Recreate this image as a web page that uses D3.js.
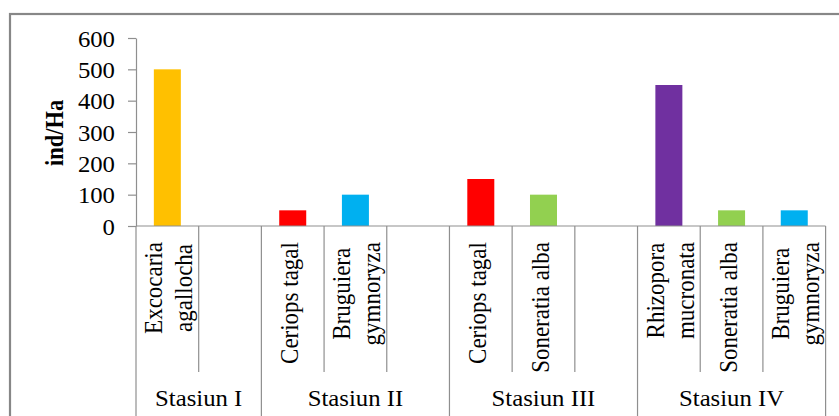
<!DOCTYPE html>
<html>
<head>
<meta charset="utf-8">
<script src="https://cdn.jsdelivr.net/npm/d3@7"></script>
<style>
  html, body { margin: 0; padding: 0; background: #fff; }
  svg { display: block; }
  text { font-family: "Liberation Serif", "Times New Roman", serif; fill: #000; }
</style>
</head>
<body>
<svg id="chart" width="839" height="416"></svg>
<script>
// Stand density per mangrove species, grouped by station
const stations = ["Stasiun I", "Stasiun II", "Stasiun III", "Stasiun IV"];
const stationOf = [0, 0, 1, 1, 1, 2, 2, 2, 3, 3, 3];
const speciesLines = [
  ["Excocaria", "agallocha"], [],
  ["Ceriops tagal"], ["Bruguiera", "gymnoryza"], [],
  ["Ceriops tagal"], ["Soneratia alba"], [],
  ["Rhizopora", "mucronata"], ["Soneratia alba"], ["Bruguiera", "gymnoryza"]
];
const density = [500, null, 50, 100, null, 150, 100, null, 450, 50, 50];
const barColors = ["#FFC000", null, "#FF0000", "#00B0F0", null, "#FF0000", "#92D050", null, "#7030A0", "#92D050", "#00B0F0"];
const yTicks = [0, 100, 200, 300, 400, 500, 600];
const yTitle = "ind/Ha";

const svg = d3.select("#chart");
const sx = 1.1;                 // horizontal stretch of the lettering
const fs = 22.5;
const fsSpecies = 23;
const lineCol = "#8f8f8f";

// outer frame
svg.append("rect")
  .attr("x", 10).attr("y", 14).attr("width", 900).attr("height", 440)
  .attr("fill", "none").attr("stroke", "#878787").attr("stroke-width", 2.2);

const plotLeft = 136, plotRight = 825.6, plotTop = 38, plotBase = 226;
const idx = d3.range(density.length);

const x = d3.scaleBand().domain(idx).range([plotLeft, plotRight]).padding(0);
const y = d3.scaleLinear().domain([0, 600]).range([plotBase, plotTop]);
const bw = x.bandwidth();

// bars
svg.append("g").selectAll("rect")
  .data(idx.filter(i => density[i] != null))
  .join("rect")
  .attr("x", i => x(i) + (bw - 27) / 2)
  .attr("width", 27)
  .attr("y", i => y(density[i]))
  .attr("height", i => y(0) - y(density[i]))
  .attr("fill", i => barColors[i]);

// y axis
const yAxis = svg.append("g")
  .attr("transform", `translate(${plotLeft},0)`)
  .call(d3.axisLeft(y).tickValues(yTicks).tickSize(8).tickSizeOuter(0));
yAxis.select(".domain").attr("stroke", lineCol).attr("stroke-width", 1.2);
yAxis.selectAll(".tick line").attr("stroke", lineCol).attr("stroke-width", 1.2);
yAxis.selectAll(".tick text")
  .attr("x", null).attr("dy", null)
  .attr("transform", "translate(-21,8) scale(" + sx + ",1)")
  .attr("text-anchor", "end")
  .style("font-family", '"Liberation Serif", "Times New Roman", serif')
  .style("font-size", fs + "px")
  .attr("fill", "#000");

// y axis title
svg.append("text")
  .attr("transform", `translate(63,133) scale(${sx},1) rotate(-90)`)
  .attr("text-anchor", "middle")
  .style("font-size", fs + "px")
  .style("font-weight", "bold")
  .text(yTitle);

// x axis baseline
svg.append("line")
  .attr("x1", plotLeft).attr("x2", plotRight).attr("y1", plotBase).attr("y2", plotBase)
  .attr("stroke", lineCol).attr("stroke-width", 1.2);

// category separators: short inside a station, long between stations
const edges = d3.range(density.length + 1);
svg.append("g").selectAll("line")
  .data(edges)
  .join("line")
  .attr("x1", i => i < density.length ? x(i) : plotRight)
  .attr("x2", i => i < density.length ? x(i) : plotRight)
  .attr("y1", plotBase)
  .attr("y2", i => (i === 0 || i === density.length || stationOf[i] !== stationOf[i - 1]) ? 420 : 372)
  .attr("stroke", lineCol).attr("stroke-width", 1.2);

// species labels, rotated
const labelTop = 242;
idx.forEach(i => {
  const lines = speciesLines[i];
  if (!lines.length) return;
  const c = x(i) + bw / 2;
  const offs = lines.length === 1 ? [5.6] : [-5, 24.8];
  const g = svg.append("g");
  const texts = lines.map(t => g.append("text")
    .style("font-size", fsSpecies + "px")
    .attr("text-anchor", "middle")
    .text(t));
  const maxLen = d3.max(texts, t => t.node().getComputedTextLength());
  texts.forEach((t, k) => {
    t.attr("transform", `translate(${c + offs[k]},${labelTop + maxLen / 2}) scale(${sx},1) rotate(-90)`);
  });
});

// station labels
stations.forEach((s, k) => {
  const members = idx.filter(i => stationOf[i] === k);
  const x0 = x(members[0]);
  const x1 = x(members[members.length - 1]) + bw;
  svg.append("text")
    .attr("transform", `translate(${(x0 + x1) / 2},406) scale(${sx},1)`)
    .attr("text-anchor", "middle")
    .style("font-size", fs + "px")
    .text(s);
});
</script>
</body>
</html>
